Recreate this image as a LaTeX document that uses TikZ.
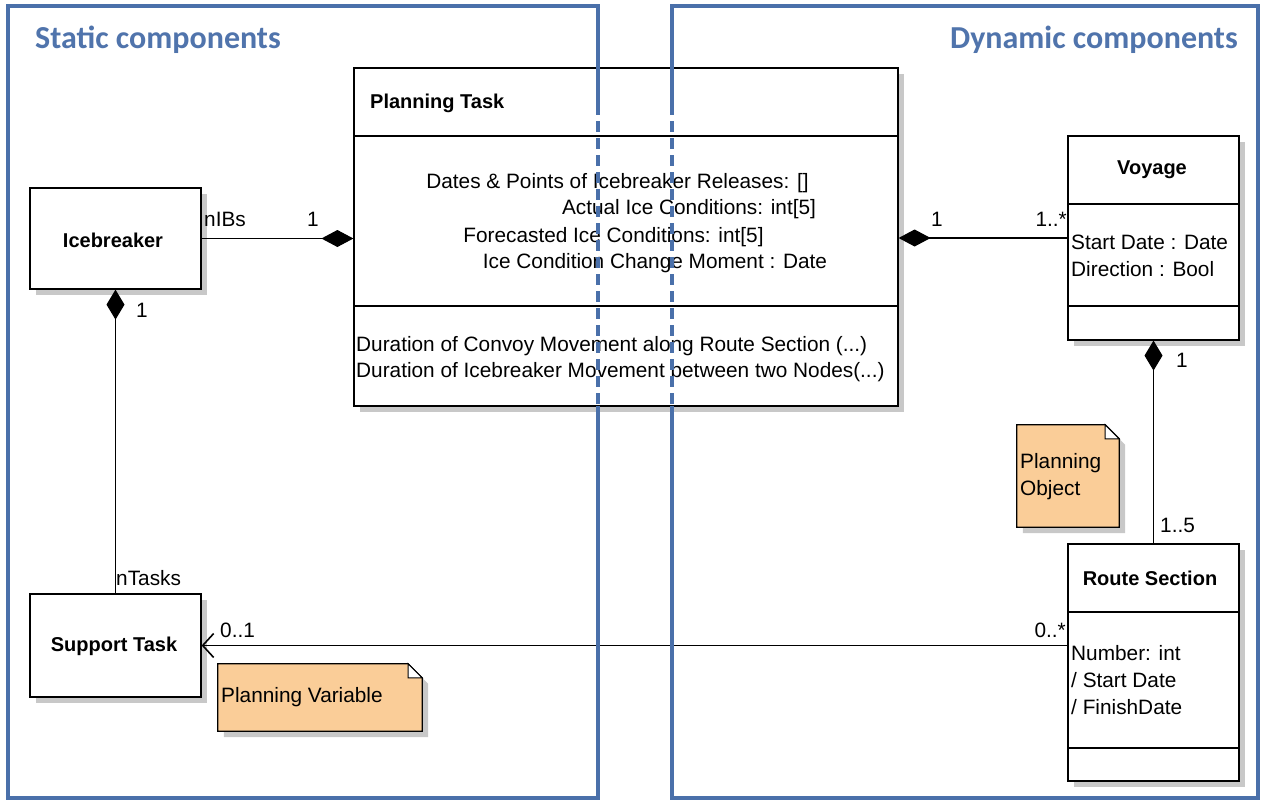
\documentclass[tikz,border=0pt]{standalone}
\usepackage{fontspec}
\setmainfont{Liberation Sans}
\newfontfamily\titlefont{Carlito}
\usetikzlibrary{arrows.meta,shadows,calc}
\definecolor{panelblue}{RGB}{74,112,170}
\definecolor{titleblue}{RGB}{80,116,172}
\definecolor{notefill}{RGB}{250,205,152}
\definecolor{shadowgray}{RGB}{200,200,200}
\begin{document}
\begin{tikzpicture}[x=1pt,y=-1pt,
  txt/.style={font=\fontsize{20.8}{26.8}\selectfont, inner sep=0pt, align=left},
  boldtxt/.style={font=\fontsize{20}{26}\selectfont\bfseries, inner sep=0pt},
  titletxt/.style={font=\fontsize{32}{36}\selectfont\titlefont\bfseries, text=titleblue, inner sep=0pt},
  classbox/.style={draw=black, line width=1.2pt, fill=white, inner sep=0pt,
    drop shadow={shadow xshift=6pt,shadow yshift=-6pt,fill=shadowgray,opacity=1}},
  frame/.style={inner sep=0pt, draw=none},
  conn/.style={draw=black, line width=1.2pt},
  divider/.style={draw=black, line width=1.2pt},
  panel/.style={draw=panelblue, line width=4pt},
  notebox/.style={draw=black, line width=1.2pt, fill=notefill},
  mult/.style={font=\fontsize{20.8}{24}\selectfont, inner sep=0pt}
]
\useasboundingbox (0,0) rectangle (1263,800);
\fill[white] (0,0) rectangle (1263,800);

% ---- titles
\node[titletxt, anchor=west] (stitle) at (35,40) {Static components};
\node[titletxt, anchor=east] (dtitle) at (1238,40) {Dynamic components};

% ---- class boxes
\node[classbox, minimum width=544pt, minimum height=338pt] (pt) at (626,237) {};
\draw[divider] (pt.west |- 0,136) -- (pt.east |- 0,136);
\draw[divider] (pt.west |- 0,306) -- (pt.east |- 0,306);
\node[boldtxt, anchor=west] (pttitle) at (370,103) {Planning Task};
\node[txt] (a1) at (617.5,183) {Dates \& Points of Icebreaker Releases: []};
\node[txt] (a2) at (689,209) {Actual Ice Conditions: int[5]};
\node[txt] (a3) at (613.5,237) {Forecasted Ice Conditions: int[5]};
\node[txt] (a4) at (655,263) {Ice Condition Change Moment : Date};
\node[txt, anchor=west] (m1) at (356,346) {Duration of Convoy Movement along Route Section (...)};
\node[txt, anchor=west] (m2) at (356,372) {Duration of Icebreaker Movement between two Nodes(...)};

\node[classbox, minimum width=171pt, minimum height=101pt] (ib) at (115.5,238.5) {};
\node[boldtxt] (ibt) at (113,240) {Icebreaker};

\node[classbox, minimum width=171pt, minimum height=103pt] (st) at (115.5,645.5) {};
\node[boldtxt] (stt) at (114,646) {Support Task};

\node[classbox, minimum width=171pt, minimum height=204pt] (vy) at (1153.5,238) {};
\draw[divider] (vy.west |- 0,204) -- (vy.east |- 0,204);
\draw[divider] (vy.west |- 0,306) -- (vy.east |- 0,306);
\node[boldtxt] (vyt) at (1152,170) {Voyage};
\node[txt, anchor=west] (vya) at (1071,256) {Start Date : Date\\Direction : Bool};

\node[classbox, minimum width=171pt, minimum height=237pt] (rs) at (1153.5,662.5) {};
\draw[divider] (rs.west |- 0,612) -- (rs.east |- 0,612);
\draw[divider] (rs.west |- 0,748) -- (rs.east |- 0,748);
\node[boldtxt] (rst) at (1150,578) {Route Section};
\node[txt, anchor=west] (rsa) at (1071,680) {Number: int\\/ Start Date\\/ FinishDate};

% ---- notes
\node[frame, minimum width=204pt, minimum height=67pt] (pv) at (320,697.5) {};
\fill[shadowgray] ($(pv.north west)+(6,6)$) -- ($(pv.north east)+(-8,6)$) -- ($(pv.north east)+(6,20)$) -- ($(pv.south east)+(6,6)$) -- ($(pv.south west)+(6,6)$) -- cycle;
\draw[notebox] (pv.north west) -- ($(pv.north east)+(-14,0)$) -- ($(pv.north east)+(0,14)$) -- (pv.south east) -- (pv.south west) -- cycle;
\filldraw[draw=black, line width=1pt, fill=white] ($(pv.north east)+(-14,0)$) -- ($(pv.north east)+(-14,14)$) -- ($(pv.north east)+(0,14)$) -- cycle;
\node[txt, anchor=west] (pvt) at (221,697) {Planning Variable};

\node[frame, minimum width=102pt, minimum height=102pt] (po) at (1068,476) {};
\fill[shadowgray] ($(po.north west)+(6,6)$) -- ($(po.north east)+(-8,6)$) -- ($(po.north east)+(6,20)$) -- ($(po.south east)+(6,6)$) -- ($(po.south west)+(6,6)$) -- cycle;
\draw[notebox] (po.north west) -- ($(po.north east)+(-14,0)$) -- ($(po.north east)+(0,14)$) -- (po.south east) -- (po.south west) -- cycle;
\filldraw[draw=black, line width=1pt, fill=white] ($(po.north east)+(-14,0)$) -- ($(po.north east)+(-14,14)$) -- ($(po.north east)+(0,14)$) -- cycle;
\node[txt, anchor=west] (pot) at (1020,476.5) {Planning\\Object};

% ---- connectors
\draw[conn, {Diamond[length=32pt,width=17pt]}-] (pt.west |- ib.east) -- (ib.east);
\draw[conn, {Diamond[length=30pt,width=18pt]}-] (ib.south) -- (st.north);
\draw[conn, {Diamond[length=32pt,width=17pt]}-] (pt.east |- vy.west) -- (vy.west);
\draw[conn, {Diamond[length=30pt,width=18pt]}-] (vy.south) -- (rs.north);
\draw[conn, -{Straight Barb[length=11pt,width=24pt,line width=1.6pt]}] (rs.west |- st.east) -- (st.east);

% ---- multiplicities
\node[mult, anchor=west] (m_nibs) at (204,219) {nIBs};
\node[mult] (m_pt1) at (313,219) {1};
\node[mult] (m_ib1) at (142,310) {1};
\node[mult, anchor=west] (m_nt) at (116,578) {nTasks};
\node[mult, anchor=west] (m_01) at (220,630) {0..1};
\node[mult, anchor=east] (m_0s) at (1066,630) {0..*};
\node[mult] (m_pt2) at (937,219) {1};
\node[mult, anchor=east] (m_1s) at (1067,219) {1..*};
\node[mult] (m_vy1) at (1182,360) {1};
\node[mult, anchor=west] (m_15) at (1160,525) {1..5};

% ---- panels (drawn on top)
\draw[panel] (598,104) -- (598,6) -- (8,6) -- (8,798) -- (598,798) -- (598,406);
\draw[panel, dash pattern=on 11pt off 6pt] (598,104) -- (598,406);
\draw[panel] (672,104) -- (672,6) -- (1258,6) -- (1258,798) -- (672,798) -- (672,406);
\draw[panel, dash pattern=on 11pt off 6pt] (672,104) -- (672,406);
\end{tikzpicture}
\end{document}
